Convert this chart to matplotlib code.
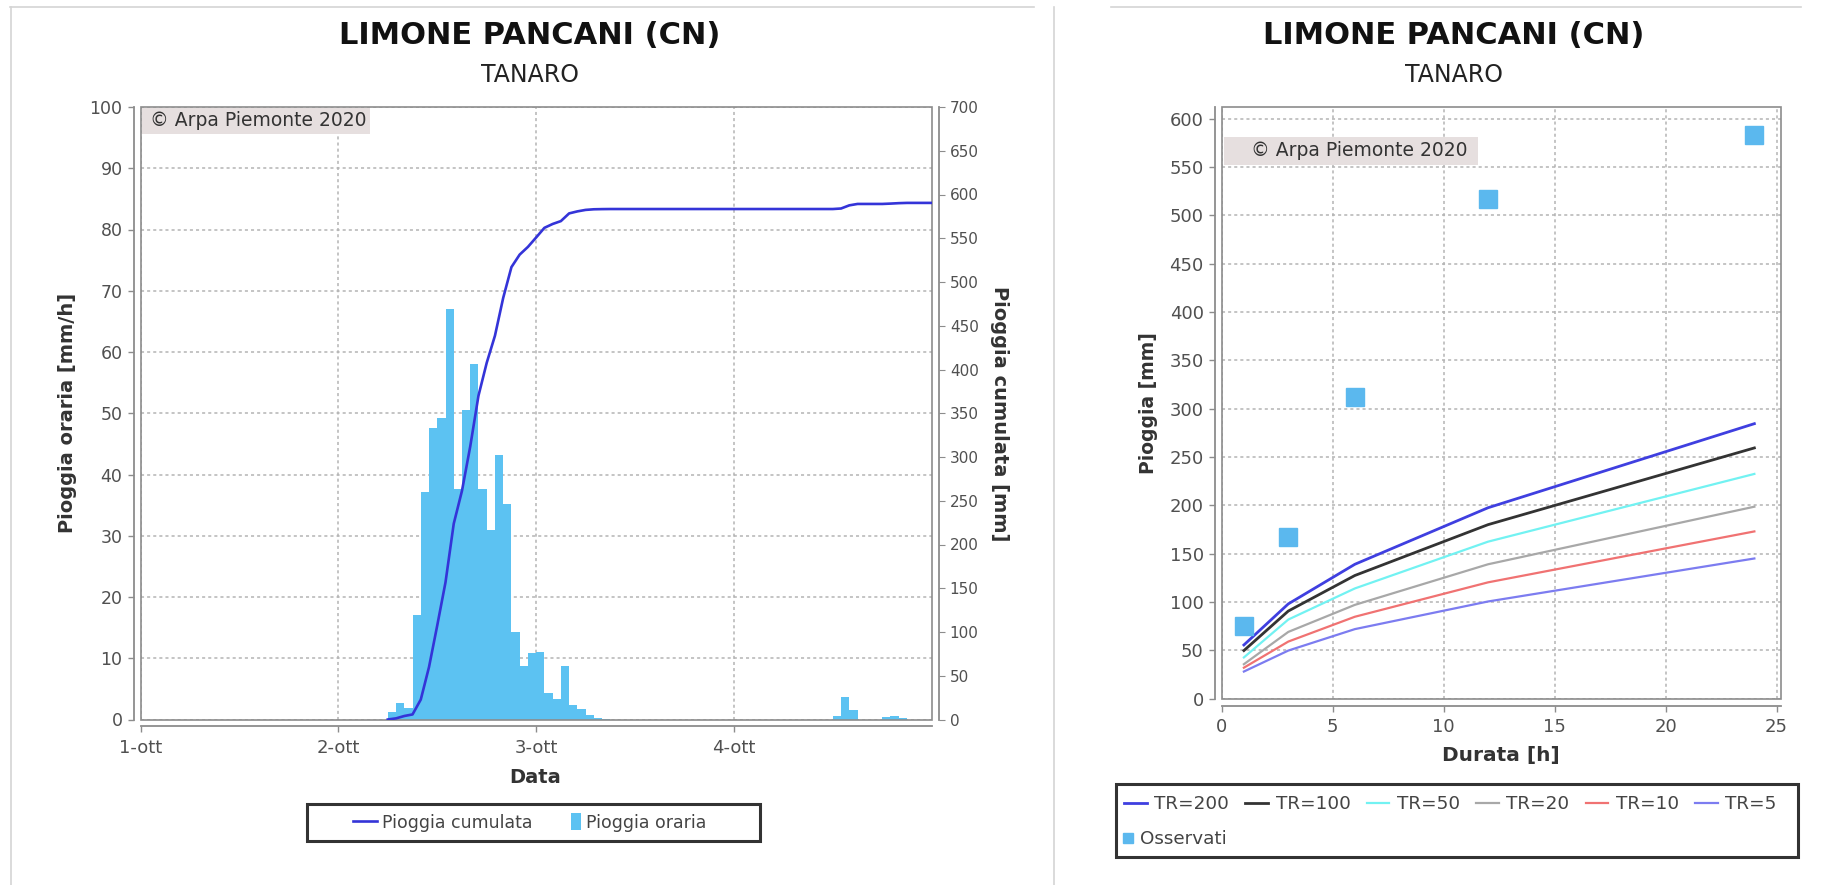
import matplotlib
matplotlib.use('Agg')
import matplotlib.pyplot as plt
from matplotlib.patches import Rectangle
from matplotlib.legend_handler import HandlerPatch
import numpy as np

W, H = 1836, 885

# hourly rain at the station, hours counted from 1-ott 00:00
rain_start = 30
hourly_rain = [1.3, 2.7, 1.8, 17.0, 37.2, 47.6, 49.2, 67.0, 37.6, 50.6,
               58.0, 37.6, 31.0, 43.2, 35.2, 14.3, 8.8, 10.8, 11.0, 4.4,
               3.3, 8.8, 2.3, 1.7, 0.7, 0.2, 0.1,
               0, 0, 0, 0, 0, 0, 0, 0, 0, 0, 0, 0, 0, 0, 0, 0, 0, 0, 0, 0,
               0, 0, 0, 0, 0, 0, 0,
               0.6, 3.6, 1.6, 0, 0, 0, 0.4, 0.5, 0.3, 0, 0, 0]
day_ticks = [0, 24, 48, 72]
day_labels = ['1-ott', '2-ott', '3-ott', '4-ott']

# depth-duration curves by return period, and observed maxima
durations = [1, 3, 6, 12, 24]
tr_labels = ['TR=200', 'TR=100', 'TR=50', 'TR=20', 'TR=10', 'TR=5']
tr_200 = [55.5, 98, 139, 197.5, 284.5]
tr_100 = [49.7, 90.6, 127.4, 180, 259.4]
tr_50 = [42.6, 81.8, 114, 162.4, 232.5]
tr_20 = [35.6, 69, 97, 139, 198.6]
tr_10 = [32, 59, 84.7, 120.3, 173]
tr_5 = [28, 49.7, 71.9, 100.5, 145]
observed = [74.8, 167, 312.5, 517, 583]

tr_colors = ['#3f3fe0', '#333333', '#72f2f2', '#a8a8a8', '#f07272', '#7c7cf0']
bar_color = '#5cc2f2'
grey = '#8c8c8c'

fig = plt.figure(figsize=(W / 100, H / 100), dpi=100)
fig.patch.set_facecolor('white')


def px_axes(x0, y0, x1, y1):
    return fig.add_axes([x0 / W, 1 - y1 / H, (x1 - x0) / W, (y1 - y0) / H])


def fx(x):
    return x / W


def fy(y):
    return 1 - y / H


def style_axes(ax):
    for s in ax.spines.values():
        s.set_visible(False)
    ax.add_patch(Rectangle((0, 0), 1, 1, transform=ax.transAxes, fill=False,
                           ec=grey, lw=1.2, zorder=6, clip_on=False))
    for side in ('left', 'bottom'):
        sp = ax.spines[side]
        sp.set_visible(True)
        sp.set_position(('outward', 5))
        sp.set_color(grey)
        sp.set_linewidth(1.3)
    ax.grid(True, color='#b4b4b4', ls=(0, (2, 2)), lw=1.1)
    ax.set_axisbelow(True)
    ax.tick_params(color=grey, length=4, width=1, labelcolor='#505050')


def watermark(ax, x0, x1, y0, y1, tx):
    ax.add_patch(Rectangle((x0, y0), x1 - x0, y1 - y0, transform=ax.transAxes,
                           fc='#e6dfdf', ec='none', zorder=7))
    ax.text(tx, (y0 + y1) / 2, '\u00a9 Arpa Piemonte 2020', transform=ax.transAxes,
            ha='left', va='center', fontsize=13.5, color='#333333', zorder=8)


def titles(cx):
    fig.text(fx(cx), fy(35), 'LIMONE PANCANI (CN)', ha='center', va='center',
             fontsize=22, fontweight='bold', color='#111111')
    fig.text(fx(cx), fy(75), 'TANARO', ha='center', va='center',
             fontsize=17, color='#222222')


def legend_box(x0, y0, x1, y1):
    fig.add_artist(Rectangle((fx(x0), fy(y1)), (x1 - x0) / W, (y1 - y0) / H,
                             transform=fig.transFigure, fill=False,
                             ec='#333333', lw=2.2))


def narrow_patch(legend, orig_handle, xdescent, ydescent, width, height, fontsize):
    return Rectangle((-xdescent + width - 7, -ydescent - 2), 7, height + 4)


# thin page borders
for (xa, xb), (ya, yb) in [((10, 1034), (7, 7)), ((1111, 1801), (7, 7)),
                           ((11, 11), (7, 885)), ((1054, 1054), (7, 885))]:
    fig.add_artist(plt.Line2D([fx(xa), fx(xb)], [fy(ya), fy(yb)],
                              color='#d4d4d4', lw=1.2))

# ---- left: hourly and cumulative rain ----
titles(530)
ax = px_axes(140.6, 107, 931.7, 719.5)
style_axes(ax)
hours = np.arange(rain_start, rain_start + len(hourly_rain))
bars = ax.bar(hours, hourly_rain, width=1, align='edge', color=bar_color, lw=0,
              label='Pioggia oraria')
ax.set_xlim(0, 96)
ax.set_ylim(0, 100)
ax.set_yticks(np.arange(0, 101, 10))
ax.set_xticks(day_ticks)
ax.set_xticklabels(day_labels)
ax.tick_params(axis='y', labelsize=12.5, pad=4)
ax.tick_params(axis='x', labelsize=13, pad=5)
ax.set_xlabel('Data', fontsize=14, fontweight='bold', color='#333333', va='center')
ax.xaxis.set_label_coords(0.499, -0.095)
ax.set_ylabel('Pioggia oraria [mm/h]', fontsize=14, fontweight='bold', color='#333333',
              va='center')
ax.yaxis.set_label_coords(-0.092, 0.5)

ax2 = ax.twinx()
for s in ax2.spines.values():
    s.set_visible(False)
ax2.spines['right'].set_visible(True)
ax2.spines['right'].set_position(('outward', 5))
ax2.spines['right'].set_color(grey)
ax2.spines['right'].set_linewidth(1.3)
cum_x = np.concatenate([[rain_start], hours + 1])
cum_y = np.concatenate([[0], np.cumsum(hourly_rain)])
cum_line, = ax2.plot(cum_x, cum_y, color='#3434d8', lw=1.9, label='Pioggia cumulata')
ax2.set_ylim(0, 700)
ax2.set_yticks(np.arange(0, 701, 50))
ax2.tick_params(axis='y', labelsize=11, color=grey, length=4, labelcolor='#505050', pad=4)
ax2.set_ylabel('Pioggia cumulata [mm]', fontsize=14, fontweight='bold', color='#333333',
               rotation=270, va='center')
ax2.yaxis.set_label_coords(1.0855, 0.5)
watermark(ax, 0.002, 0.29, 0.956, 0.999, 0.012)

legend_box(306.7, 804, 760, 840.7)
bar_handle = bars.patches[0]
leg = fig.legend([cum_line, bar_handle], ['Pioggia cumulata', 'Pioggia oraria'],
                 loc='center left', bbox_to_anchor=(fx(353), fy(822.5)),
                 ncol=2, fontsize=12.5, frameon=False, handlelength=1.4,
                 handletextpad=0.27, columnspacing=1.4, borderpad=0, borderaxespad=0,
                 handler_map={bar_handle: HandlerPatch(patch_func=narrow_patch)})
for t in leg.get_texts():
    t.set_color('#444444')

# ---- right: depth-duration curves ----
titles(1454)
bx = px_axes(1221.7, 107.2, 1781, 698.6)
style_axes(bx)
tr_series = [tr_200, tr_100, tr_50, tr_20, tr_10, tr_5]
handles = []
for vals, lab, col in zip(tr_series, tr_labels, tr_colors):
    lw = 2.0 if lab in ('TR=200', 'TR=100') else 1.6
    ln, = bx.plot(durations, vals, color=col, lw=lw, label=lab)
    handles.append(ln)
obs, = bx.plot(durations, observed, ls='none', marker='s', ms=12.5, color='#5bb8ee',
               mec='#5bb8ee', label='Osservati', zorder=4)
bx.set_xlim(0, 25.2)
bx.set_ylim(0, 612)
bx.set_xticks(np.arange(0, 26, 5))
bx.set_yticks(np.arange(0, 601, 50))
bx.tick_params(axis='both', labelsize=13)
bx.tick_params(axis='y', pad=4)
bx.tick_params(axis='x', pad=5)
bx.set_xlabel('Durata [h]', fontsize=14.5, fontweight='bold', color='#333333', va='center')
bx.xaxis.set_label_coords(0.4995, -0.097)
bx.set_ylabel('Pioggia [mm]', fontsize=13.5, fontweight='bold', color='#333333', va='center')
bx.yaxis.set_label_coords(-0.13, 0.5)
watermark(bx, 0.004, 0.4575, 0.902, 0.95, 0.052)

# return-period lines on the first row, observed points on the second
legend_box(1116, 784.4, 1798, 856.7)
leg2 = fig.legend(handles, tr_labels, loc='center left',
                  bbox_to_anchor=(fx(1124), fy(804)), ncol=6, fontsize=13.2,
                  frameon=False, handlelength=1.25, handletextpad=0.4,
                  columnspacing=0.88, borderpad=0, borderaxespad=0)
leg3 = fig.legend([obs], ['Osservati'], loc='center left',
                  bbox_to_anchor=(fx(1124), fy(839.5)), fontsize=13.2,
                  frameon=False, handlelength=0.4, handletextpad=0.45,
                  borderpad=0, borderaxespad=0, markerscale=0.55)
for lg in (leg2, leg3):
    for t in lg.get_texts():
        t.set_color('#444444')

fig.savefig('out.png', dpi=100)
